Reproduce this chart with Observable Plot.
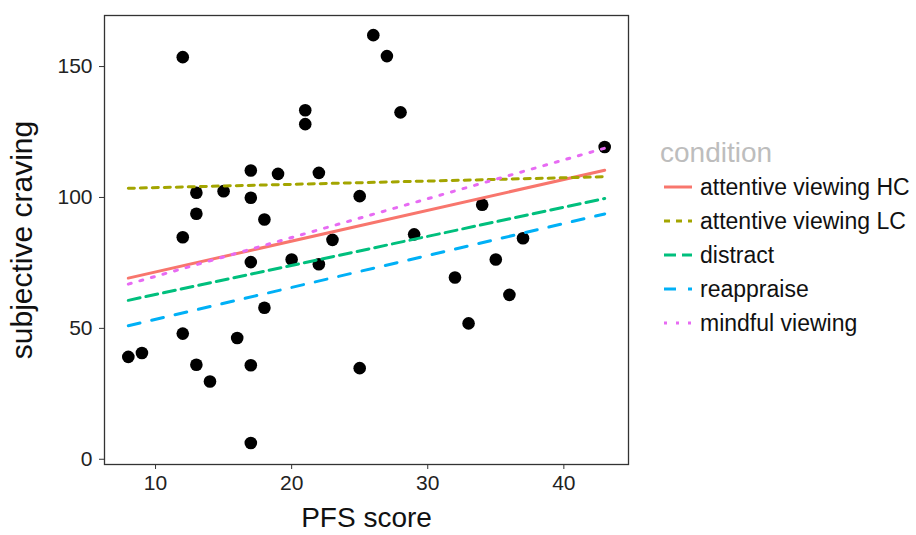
<!DOCTYPE html>
<html><head><meta charset="utf-8">
<script src="https://cdn.jsdelivr.net/npm/d3@7"></script>
<script src="https://cdn.jsdelivr.net/npm/@observablehq/plot@0.6"></script>
<style>
body{margin:0;background:#fff;font-family:"Liberation Sans",Arial,sans-serif;}
#wrap{position:relative;width:916px;height:535px;overflow:hidden;}
#chart{position:absolute;left:0;top:0;}
#legend{position:absolute;left:660px;top:136px;}
#legend .title{height:34px;line-height:34px;font-size:28px;color:#bdbdbd;}
#legend .row{height:34px;display:flex;align-items:center;font-size:23px;color:#111;}
#legend svg{display:block;}
</style></head><body>
<div id="wrap"><div id="chart"></div><div id="legend"></div></div>
<script>
// PFS score (x) and subjective craving (y) for each participant
const pfs = [12, 26, 27, 21, 21, 28, 17, 19, 22, 13, 15, 17, 25, 13, 18, 12, 23, 43, 34, 29, 37, 35, 32, 36, 33, 25, 17, 20, 22, 18, 12, 16, 8, 9, 13, 17, 14, 17];
const craving = [153.6, 162.0, 154.0, 133.3, 128.0, 132.5, 110.3, 109.0, 109.4, 101.8, 102.4, 99.9, 100.5, 93.8, 91.6, 84.8, 83.8, 119.3, 97.2, 85.9, 84.4, 76.3, 69.4, 62.8, 51.9, 34.8, 75.3, 76.3, 74.5, 57.9, 48.0, 46.3, 39.1, 40.6, 36.1, 35.9, 29.7, 6.2];

// regression lines per condition
const conditions = ["attentive viewing HC", "attentive viewing LC", "distract", "reappraise", "mindful viewing"];
const fitX = [8, 43];
const fitStart = [69.2, 103.5, 60.7, 51.0, 66.9];
const fitEnd = [110.4, 107.9, 99.6, 93.7, 118.8];

const xTicks = [10, 20, 30, 40];
const yTicks = [0, 50, 100, 150];

// styles
const colors = ["#F8766D", "#A3A500", "#00BF7D", "#00B0F6", "#E76BF3"];
const dashes = [null, "6,6", "12,6", "12,12", "3,9"];

const points = pfs.map((x, i) => ({x, y: craving[i]}));
const fits = conditions.flatMap((c, i) => fitX.map((x, j) => ({condition: c, x, y: j === 0 ? fitStart[i] : fitEnd[i]})));

const plot = Plot.plot({
  width: 640,
  height: 535,
  marginLeft: 104,
  marginRight: 12,
  marginTop: 15,
  marginBottom: 71,
  style: {fontFamily: "'Liberation Sans', Arial, sans-serif", background: "#fff", color: "#222"},
  x: {domain: [6.25, 44.75]},
  y: {domain: [-2, 169.5]},
  marks: [
    Plot.axisX({ticks: xTicks, tickSize: 5, tickPadding: 6, fontSize: 21, label: null, stroke: "#333"}),
    Plot.axisY({ticks: yTicks, tickSize: 5, tickPadding: 7, fontSize: 21, label: null, stroke: "#333"}),
    Plot.dot(points, {x: "x", y: "y", r: 6.3, fill: "black", stroke: "none"}),
    ...conditions.map((c, i) => Plot.line(fits.filter(d => d.condition === c), {
      x: "x", y: "y", stroke: colors[i], strokeWidth: 3, strokeDasharray: dashes[i]
    })),
    Plot.frame({stroke: "#333", strokeWidth: 1.3}),
    Plot.text(["PFS score"], {text: d => d, frameAnchor: "bottom", dy: 54, fontSize: 28, fill: "#111", lineAnchor: "middle", textAnchor: "middle"}),
    Plot.text(["subjective craving"], {text: d => d, frameAnchor: "left", dx: -82, rotate: -90, fontSize: 30, fill: "#111", lineAnchor: "middle", textAnchor: "middle"})
  ]
});
document.getElementById("chart").appendChild(plot);

// legend
const legend = document.getElementById("legend");
const t = document.createElement("div");
t.className = "title";
t.textContent = "condition";
legend.appendChild(t);
conditions.forEach((c, i) => {
  const row = document.createElement("div");
  row.className = "row";
  const ns = "http://www.w3.org/2000/svg";
  const svg = document.createElementNS(ns, "svg");
  svg.setAttribute("width", 40);
  svg.setAttribute("height", 34);
  const line = document.createElementNS(ns, "line");
  line.setAttribute("x1", 4); line.setAttribute("x2", 32);
  line.setAttribute("y1", 17); line.setAttribute("y2", 17);
  line.setAttribute("stroke", colors[i]);
  line.setAttribute("stroke-width", 3);
  if (dashes[i]) line.setAttribute("stroke-dasharray", dashes[i]);
  svg.appendChild(line);
  const span = document.createElement("span");
  span.textContent = c;
  row.appendChild(svg);
  row.appendChild(span);
  legend.appendChild(row);
});
</script>
</body></html>
